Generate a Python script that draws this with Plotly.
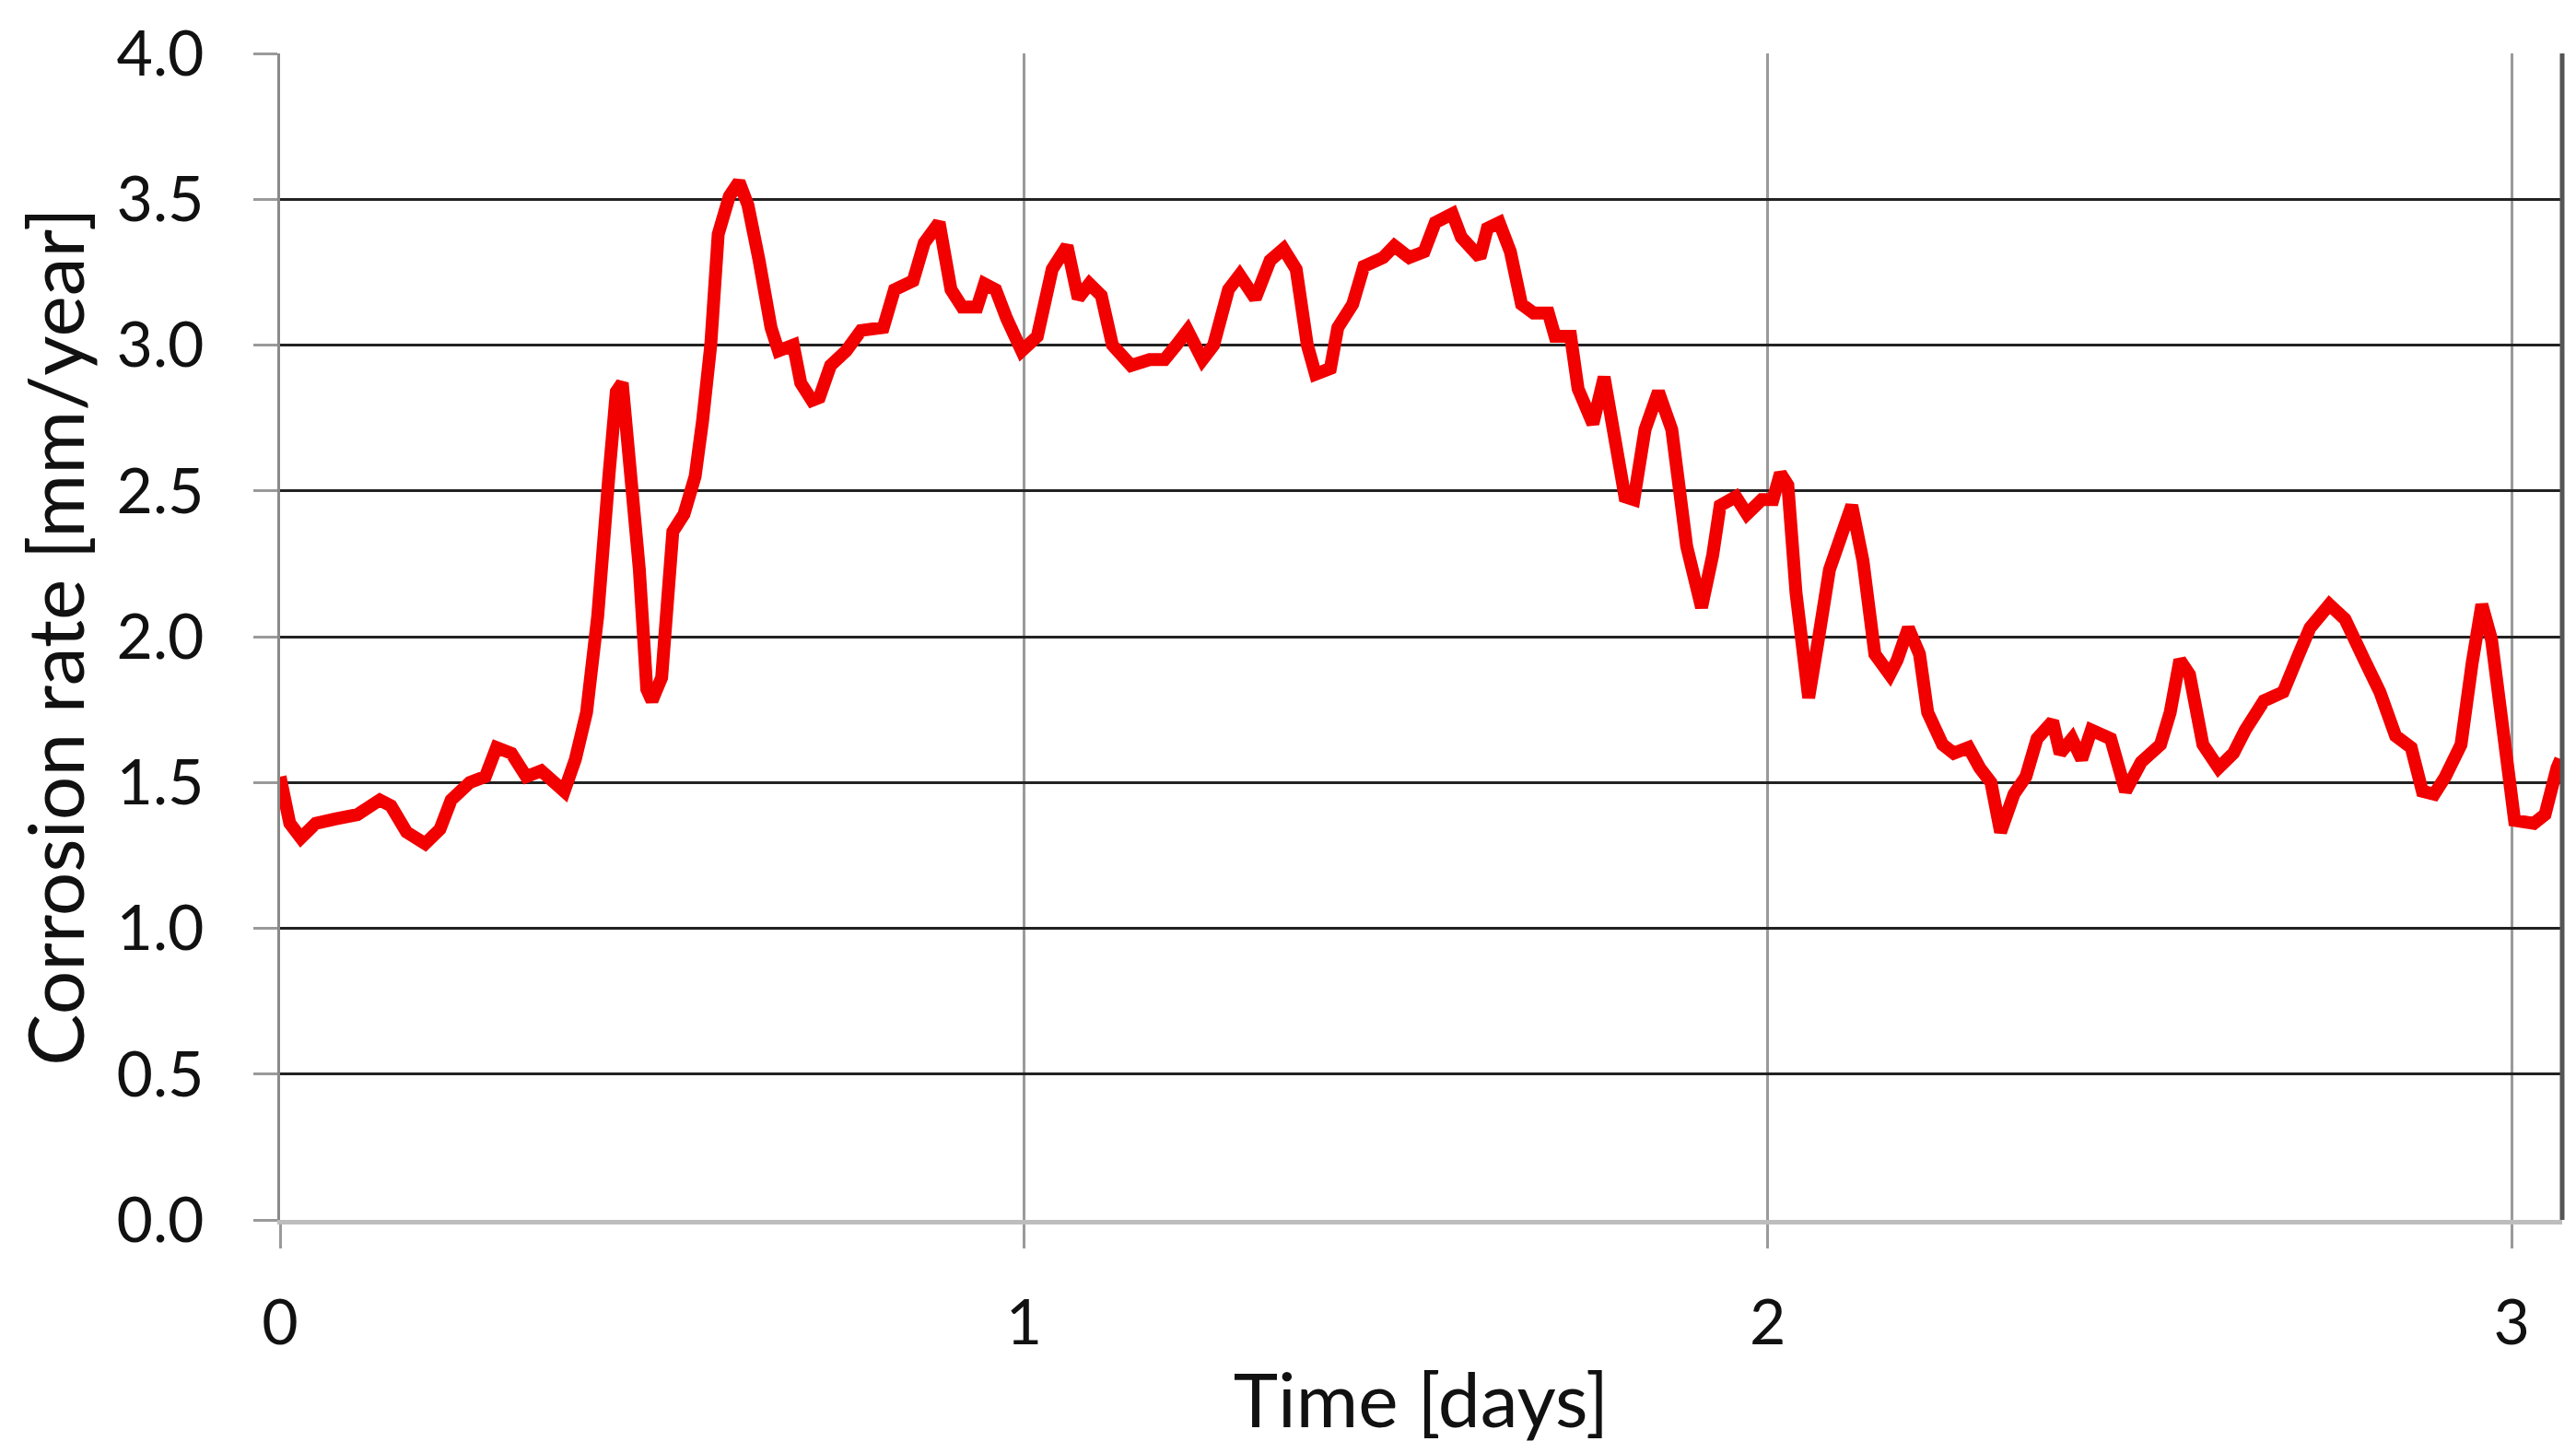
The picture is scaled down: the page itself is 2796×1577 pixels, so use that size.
import plotly.graph_objects as go

# tid i døgn og korrosjonsrate
time_days = [
    0.000, 0.013, 0.028, 0.048, 0.074, 0.104, 0.134, 0.149, 0.170, 0.195,
    0.215, 0.230, 0.255, 0.276, 0.291, 0.311, 0.331, 0.351, 0.382, 0.397,
    0.412, 0.427, 0.442, 0.452, 0.460, 0.467, 0.483, 0.493, 0.500, 0.513,
    0.528, 0.543, 0.558, 0.568, 0.579, 0.589, 0.604, 0.617, 0.629, 0.644,
    0.660, 0.670, 0.690, 0.700, 0.715, 0.725, 0.740, 0.761, 0.781, 0.811,
    0.826, 0.851, 0.866, 0.886, 0.902, 0.917, 0.937, 0.947, 0.962, 0.977,
    0.997, 1.018, 1.038, 1.058, 1.073, 1.088, 1.104, 1.119, 1.144, 1.169,
    1.189, 1.205, 1.220, 1.240, 1.255, 1.275, 1.290, 1.311, 1.331, 1.349,
    1.366, 1.381, 1.392, 1.412, 1.422, 1.442, 1.457, 1.483, 1.498, 1.518,
    1.538, 1.553, 1.576, 1.588, 1.613, 1.623, 1.639, 1.654, 1.669, 1.685,
    1.705, 1.714, 1.735, 1.745, 1.765, 1.780, 1.795, 1.808, 1.820, 1.835,
    1.853, 1.871, 1.891, 1.911, 1.926, 1.936, 1.957, 1.972, 1.992, 2.007,
    2.017, 2.027, 2.038, 2.055, 2.068, 2.083, 2.098, 2.113, 2.128, 2.144,
    2.164, 2.174, 2.189, 2.204, 2.215, 2.235, 2.250, 2.270, 2.285, 2.300,
    2.313, 2.331, 2.347, 2.362, 2.383, 2.393, 2.409, 2.422, 2.435, 2.461,
    2.481, 2.502, 2.528, 2.541, 2.554, 2.567, 2.585, 2.606, 2.626, 2.642,
    2.667, 2.693, 2.714, 2.729, 2.755, 2.776, 2.802, 2.823, 2.844, 2.865,
    2.880, 2.896, 2.911, 2.932, 2.947, 2.960, 2.973, 2.989, 3.004, 3.030,
    3.045, 3.061, 3.066,
]
corrosion_rate = [
    1.52, 1.36, 1.31, 1.36, 1.375, 1.39, 1.44, 1.42, 1.33, 1.29,
    1.34, 1.44, 1.50, 1.52, 1.62, 1.60, 1.52, 1.54, 1.47, 1.58,
    1.74, 2.07, 2.55, 2.84, 2.87, 2.68, 2.23, 1.82, 1.78, 1.86,
    2.36, 2.42, 2.55, 2.74, 3.00, 3.38, 3.51, 3.56, 3.48, 3.29,
    3.06, 2.98, 3.00, 2.87, 2.81, 2.82, 2.93, 2.98, 3.05, 3.06,
    3.19, 3.22, 3.35, 3.42, 3.19, 3.13, 3.13, 3.21, 3.19, 3.09,
    2.98, 3.03, 3.26, 3.34, 3.16, 3.21, 3.17, 3.00, 2.93, 2.95,
    2.95, 3.00, 3.05, 2.95, 3.00, 3.19, 3.24, 3.16, 3.29, 3.33,
    3.26, 3.00, 2.90, 2.92, 3.06, 3.14, 3.27, 3.30, 3.34, 3.30,
    3.32, 3.42, 3.45, 3.37, 3.30, 3.40, 3.42, 3.32, 3.14, 3.11,
    3.11, 3.03, 3.03, 2.85, 2.73, 2.89, 2.68, 2.48, 2.47, 2.71,
    2.84, 2.71, 2.31, 2.10, 2.28, 2.45, 2.48, 2.42, 2.47, 2.47,
    2.56, 2.52, 2.15, 1.79, 1.99, 2.23, 2.34, 2.45, 2.26, 1.94,
    1.87, 1.92, 2.03, 1.94, 1.74, 1.63, 1.60, 1.62, 1.55, 1.50,
    1.33, 1.46, 1.52, 1.65, 1.71, 1.60, 1.65, 1.58, 1.68, 1.65,
    1.47, 1.57, 1.63, 1.74, 1.92, 1.87, 1.63, 1.55, 1.60, 1.68,
    1.78, 1.81, 1.94, 2.03, 2.11, 2.06, 1.92, 1.81, 1.66, 1.62,
    1.47, 1.46, 1.52, 1.63, 1.91, 2.11, 1.99, 1.62, 1.37, 1.36,
    1.39, 1.55, 1.58,
]

x_ticks = [0, 1, 2, 3]
y_ticks = [0.0, 0.5, 1.0, 1.5, 2.0, 2.5, 3.0, 3.5, 4.0]

fig = go.Figure()
fig.add_trace(go.Scatter(
    x=time_days,
    y=corrosion_rate,
    mode='lines',
    line=dict(color='#f20000', width=14),
    showlegend=False,
))

font = "Lato, 'Open Sans', sans-serif"

fig.update_layout(
    width=2796,
    height=1577,
    margin=dict(l=296, r=23, t=50, b=261),
    paper_bgcolor='white',
    plot_bgcolor='white',
    font=dict(family=font, color='#111111'),
    xaxis=dict(
        range=[0, 3.068],
        automargin=False,
        tickvals=x_ticks,
        ticktext=[str(v) for v in x_ticks],
        showgrid=True,
        gridcolor='#9a9a9a',
        gridwidth=3,
        zeroline=False,
        showline=True,
        linecolor='#bdbdbd',
        linewidth=5,
        ticks='outside',
        ticklen=26,
        tickwidth=3,
        tickcolor='#9a9a9a',
        ticklabelstandoff=22,
        tickfont=dict(size=68, family=font),
        title=dict(text='Time [days]', font=dict(size=82, family=font), standoff=22),
    ),
    yaxis=dict(
        range=[0, 4.0],
        automargin=False,
        tickvals=y_ticks,
        ticktext=[f"{v:.1f}" for v in y_ticks],
        showgrid=True,
        gridcolor='#222222',
        gridwidth=3,
        zeroline=False,
        showline=True,
        linecolor='#8a8a8a',
        linewidth=3,
        ticks='outside',
        ticklen=26,
        tickwidth=3,
        tickcolor='#9a9a9a',
        ticklabelstandoff=40,
        tickfont=dict(size=68, family=font),
        title=dict(text='Corrosion rate [mm/year]', font=dict(size=84, family=font), standoff=12),
    ),
)

# høyre ramme, mørkere enn venstre akse
fig.add_shape(type='line', xref='paper', yref='paper', x0=1, x1=1, y0=0, y1=1,
              line=dict(color='#555555', width=5))

fig.write_html("out.html")
